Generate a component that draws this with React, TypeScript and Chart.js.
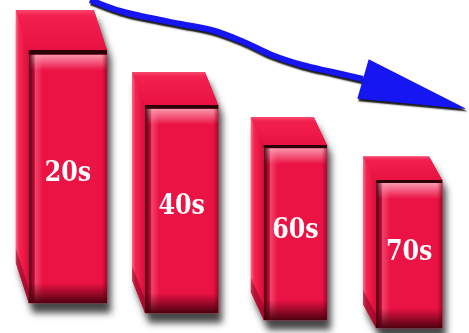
import React, { useEffect, useRef } from 'react';
import { Chart, registerables } from 'chart.js';

Chart.register(...registerables);

// ---- data ----
const decades = ['20s', '40s', '60s', '70s'];
const barTop = [283, 228, 188, 153];
const barBase = [30, 20, 13, 5];
const trendStep = [0, 1, 2, 3, 4, 5, 6, 7, 8, 9];
const trendLevel = [333, 322, 315, 309, 303, 292, 278, 268, 261, 254];

// ---- styles ----
const barWidths = [78, 73, 63, 66];
const RED = '#eb1244';
const BLUE = '#1616f2';
const DEPTH_X = 13;
const DEPTH_RATIO = 0.158;
const LABEL_POS = 0.49;
const ARROW_LEN = 108;
const ARROW_HALF = 20.5;
const ARROW_TURN = 0.055;

type G = { x0: number; x1: number; yT: number; yB: number; w: number; h: number; dx: number; dy: number };

function geom(el: any): G {
  const x0 = el.x - el.width / 2;
  const x1 = el.x + el.width / 2;
  const yT = Math.min(el.y, el.base);
  const yB = Math.max(el.y, el.base);
  const h = yB - yT;
  return { x0, x1, yT, yB, w: x1 - x0, h, dx: DEPTH_X, dy: h * DEPTH_RATIO };
}

function outline(ctx: CanvasRenderingContext2D, g: G) {
  ctx.beginPath();
  ctx.moveTo(g.x0 - g.dx, g.yT - g.dy);
  ctx.lineTo(g.x1 - g.dx, g.yT - g.dy);
  ctx.lineTo(g.x1, g.yT);
  ctx.lineTo(g.x1, g.yB);
  ctx.lineTo(g.x0, g.yB);
  ctx.lineTo(g.x0 - g.dx, g.yB - g.dy);
  ctx.closePath();
}

function drawBox(ctx: CanvasRenderingContext2D, g: G, label: string) {
  const { x0, x1, yT, yB, w, h, dx, dy } = g;
  // left face
  ctx.beginPath();
  ctx.moveTo(x0 - dx, yT - dy);
  ctx.lineTo(x0, yT);
  ctx.lineTo(x0, yB);
  ctx.lineTo(x0 - dx, yB - dy);
  ctx.closePath();
  let gr = ctx.createLinearGradient(x0 - dx, 0, x0, 0);
  gr.addColorStop(0, '#ff6a8a');
  gr.addColorStop(0.25, '#f72450');
  gr.addColorStop(1, '#da0c3c');
  ctx.fillStyle = gr;
  ctx.fill();
  // dark band along the bottom of left face
  ctx.beginPath();
  ctx.moveTo(x0 - dx, yB - dy - 14);
  ctx.lineTo(x0, yB - 14);
  ctx.lineTo(x0, yB);
  ctx.lineTo(x0 - dx, yB - dy);
  ctx.closePath();
  ctx.fillStyle = 'rgba(110,0,25,0.45)';
  ctx.fill();

  // top face
  ctx.beginPath();
  ctx.moveTo(x0 - dx, yT - dy);
  ctx.lineTo(x1 - dx, yT - dy);
  ctx.lineTo(x1, yT);
  ctx.lineTo(x0, yT);
  ctx.closePath();
  gr = ctx.createLinearGradient(0, yT - dy, 0, yT);
  gr.addColorStop(0, '#fa466a');
  gr.addColorStop(0.15, '#f2204e');
  gr.addColorStop(1, '#e81242');
  ctx.fillStyle = gr;
  ctx.fill();

  // front face bevels
  const t = Math.max(3, h * 0.018);
  gr = ctx.createLinearGradient(0, yT + t, 0, yT + t + 16);
  gr.addColorStop(0, 'rgba(255,185,200,0.8)');
  gr.addColorStop(1, 'rgba(255,185,200,0)');
  ctx.fillStyle = gr;
  ctx.fillRect(x0, yT + t, w, 16);
  gr = ctx.createLinearGradient(x0, 0, x0 + 7, 0);
  gr.addColorStop(0, 'rgba(50,0,10,0.9)');
  gr.addColorStop(1, 'rgba(50,0,10,0)');
  ctx.fillStyle = gr;
  ctx.fillRect(x0, yT, 7, h);
  gr = ctx.createLinearGradient(x0 + 6, 0, x0 + 14, 0);
  gr.addColorStop(0, 'rgba(255,150,175,0.4)');
  gr.addColorStop(1, 'rgba(255,150,175,0)');
  ctx.fillStyle = gr;
  ctx.fillRect(x0 + 6, yT + t, 8, h - t);
  gr = ctx.createLinearGradient(x1 - 5, 0, x1, 0);
  gr.addColorStop(0, 'rgba(120,0,25,0)');
  gr.addColorStop(1, 'rgba(120,0,25,0.6)');
  ctx.fillStyle = gr;
  ctx.fillRect(x1 - 5, yT, 5, h);
  gr = ctx.createLinearGradient(0, yB - 20, 0, yB);
  gr.addColorStop(0, 'rgba(70,0,12,0)');
  gr.addColorStop(1, 'rgba(70,0,12,0.95)');
  ctx.fillStyle = gr;
  ctx.fillRect(x0, yB - 20, w, 20);
  ctx.fillStyle = '#2e0008';
  ctx.fillRect(x0, yT, w, t);

  // label
  ctx.save();
  ctx.font = 'bold 27px "DejaVu Serif", serif';
  ctx.fillStyle = '#ffffff';
  ctx.textAlign = 'center';
  ctx.textBaseline = 'middle';
  ctx.translate((x0 + x1) / 2, yT + LABEL_POS * h);
  ctx.scale(0.88, 1);
  ctx.fillText(label, 0, 0);
  ctx.restore();
}

const boxPlugin = {
  id: 'box3d',
  beforeDatasetDraw(chart: any, args: any) {
    const ctx: CanvasRenderingContext2D = chart.ctx;
    const meta = args.meta;
    if (meta.type === 'bar') {
      const ds = chart.data.datasets[args.index];
      meta.data.forEach((el: any, j: number) => {
        if (ds.data[j] == null) return;
        const g = geom(el);
        ctx.save();
        ctx.shadowColor = 'rgba(0,0,0,0.72)';
        ctx.shadowBlur = 7;
        ctx.shadowOffsetX = 4;
        ctx.shadowOffsetY = 10;
        ctx.fillStyle = RED;
        outline(ctx, g);
        ctx.fill();
        ctx.restore();
      });
    } else if (meta.type === 'line') {
      ctx.save();
      ctx.shadowColor = 'rgba(0,0,0,0.9)';
      ctx.shadowBlur = 1.5;
      ctx.shadowOffsetX = 1;
      ctx.shadowOffsetY = 2.5;
    }
  },
  afterDatasetDraw(chart: any, args: any) {
    const ctx: CanvasRenderingContext2D = chart.ctx;
    const meta = args.meta;
    if (meta.type === 'bar') {
      const ds = chart.data.datasets[args.index];
      meta.data.forEach((el: any, j: number) => {
        if (ds.data[j] == null) return;
        drawBox(ctx, geom(el), decades[j]);
      });
    } else if (meta.type === 'line') {
      const pts = meta.data;
      const p = pts[pts.length - 1];
      const q = pts[pts.length - 2];
      const ang = Math.atan2(p.y - q.y, p.x - q.x) + ARROW_TURN;
      const c = Math.cos(ang);
      const s = Math.sin(ang);
      ctx.beginPath();
      ctx.moveTo(p.x + ARROW_LEN * c, p.y + ARROW_LEN * s);
      ctx.lineTo(p.x - ARROW_HALF * s, p.y + ARROW_HALF * c);
      ctx.lineTo(p.x + ARROW_HALF * s, p.y - ARROW_HALF * c);
      ctx.closePath();
      ctx.fillStyle = BLUE;
      ctx.fill();
      ctx.restore();
    }
  },
};

export default function App() {
  const ref = useRef<HTMLCanvasElement | null>(null);
  useEffect(() => {
    if (!ref.current) return;
    const barSets = decades.map((d, i) => ({
      type: 'bar' as const,
      label: d,
      data: decades.map((_, j) => (j === i ? [barBase[j], barTop[j]] : null)),
      grouped: false,
      barThickness: barWidths[i],
      backgroundColor: RED,
      borderWidth: 0,
      xAxisID: 'x',
      yAxisID: 'y',
      order: 1,
    }));
    const trend = {
      type: 'line' as const,
      label: 'trend',
      data: trendStep.map((s, i) => ({ x: s, y: trendLevel[i] })),
      xAxisID: 'xT',
      yAxisID: 'y',
      borderColor: BLUE,
      borderWidth: 6,
      tension: 0.4,
      pointRadius: 0,
      fill: false,
      order: 0,
      clip: false as any,
    };
    const chart = new Chart(ref.current, {
      type: 'bar',
      data: { labels: decades, datasets: [trend as any, ...barSets] },
      options: {
        animation: false,
        responsive: false,
        devicePixelRatio: 1,
        events: [],
        layout: { padding: { left: 11, right: 3, top: 0, bottom: 0 } },
        plugins: { legend: { display: false }, tooltip: { enabled: false } },
        scales: {
          x: { type: 'category', display: false, offset: true },
          xT: { type: 'linear', display: false, offset: false, min: -2.604, max: 12.396 },
          y: { type: 'linear', display: false, min: 0, max: 333 },
        },
      },
      plugins: [boxPlugin],
    });
    return () => chart.destroy();
  }, []);
  return (
    <div style={{ position: 'absolute', left: 0, top: 0, width: 469, height: 333, background: '#fff' }}>
      <canvas ref={ref} width={469} height={333} style={{ display: 'block' }} />
    </div>
  );
}
